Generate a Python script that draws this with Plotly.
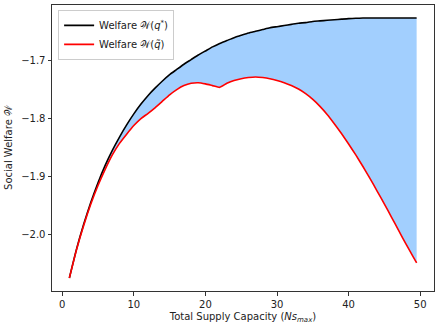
import plotly.graph_objects as go

# supply capacity values on the x axis
capacity = [1, 2, 3, 4, 5, 6, 7, 8, 9, 10, 11, 12, 13, 14, 15, 16, 17, 18, 19, 20,
            21, 22, 23, 24, 25, 26, 27, 28, 29, 30, 31, 32, 33, 34, 35, 36, 37, 38,
            39, 40, 41, 42, 43, 44, 45, 46, 47, 48, 49, 49.5]

# optimal welfare W(q*)
welfare_opt = [-2.076, -2.026, -1.983, -1.945, -1.911, -1.881, -1.855, -1.832, -1.811, -1.792,
               -1.775, -1.760, -1.747, -1.735, -1.724, -1.715, -1.706, -1.698, -1.690, -1.683,
               -1.676, -1.670, -1.665, -1.660, -1.656, -1.652, -1.649, -1.646, -1.643, -1.641,
               -1.639, -1.637, -1.635, -1.634, -1.632, -1.631, -1.630, -1.629, -1.628, -1.627,
               -1.6265, -1.626, -1.626, -1.626, -1.626, -1.626, -1.626, -1.626, -1.626, -1.626]

# achieved welfare W(q~)
welfare_act = [-2.076, -2.027, -1.985, -1.948, -1.916, -1.888, -1.863, -1.843, -1.827, -1.812,
               -1.800, -1.791, -1.781, -1.770, -1.759, -1.750, -1.743, -1.739, -1.738, -1.740,
               -1.743, -1.746, -1.739, -1.734, -1.731, -1.729, -1.728, -1.729, -1.731, -1.734,
               -1.738, -1.743, -1.749, -1.757, -1.767, -1.779, -1.793, -1.809, -1.826, -1.844,
               -1.863, -1.883, -1.904, -1.926, -1.948, -1.971, -1.994, -2.017, -2.039, -2.050]

yticks = [-2.0, -1.9, -1.8, -1.7]
xticks = [0, 10, 20, 30, 40, 50]

fnt = "DejaVu Sans, Arial, sans-serif"
smooth = dict(shape="spline", smoothing=0.5)

fig = go.Figure()

# shaded gap between the two curves
fig.add_trace(go.Scatter(x=capacity, y=welfare_act, mode="lines", line=dict(width=0, **smooth),
                         showlegend=False, hoverinfo="skip"))
fig.add_trace(go.Scatter(x=capacity, y=welfare_opt, mode="lines", line=dict(width=0, **smooth),
                         fill="tonexty", fillcolor="#a2cffe", showlegend=False, hoverinfo="skip"))

fig.add_trace(go.Scatter(x=capacity, y=welfare_opt, mode="lines",
                         line=dict(color="black", width=1.6, **smooth),
                         name="Welfare 𝒲(<i>q</i><sup>*</sup>)"))
fig.add_trace(go.Scatter(x=capacity, y=welfare_act, mode="lines",
                         line=dict(color="red", width=1.6, **smooth),
                         name="Welfare 𝒲(<i>q̃</i>)"))

axis_common = dict(showline=True, linecolor="#333", linewidth=1, mirror=True,
                   ticks="outside", ticklen=3.5, tickcolor="#333", showgrid=False,
                   zeroline=False, tickfont=dict(family=fnt, size=10, color="#222"))

fig.update_xaxes(range=[-1.425, 51.925], tickvals=xticks,
                 title=dict(text="Total Supply Capacity (<i>Ns</i><sub><i>max</i></sub>)",
                            font=dict(family=fnt, size=10, color="#222"), standoff=4),
                 **axis_common)
fig.update_yaxes(range=[-2.0985, -1.6035], tickvals=yticks,
                 ticktext=[f"{v:.1f}".replace("-", "\u2212") for v in yticks],
                 title=dict(text="Social Welfare 𝒲",
                            font=dict(family=fnt, size=10, color="#222"), standoff=6),
                 **axis_common)

fig.update_layout(
    width=441, height=327,
    margin=dict(l=52, r=7, t=5, b=36),
    plot_bgcolor="white", paper_bgcolor="white",
    font=dict(family=fnt, size=10, color="#222"),
    legend=dict(x=0.016, y=0.983, xanchor="left", yanchor="top", traceorder="normal",
                bgcolor="rgba(255,255,255,0.85)", bordercolor="#ccc", borderwidth=1,
                font=dict(family=fnt, size=10, color="#222"), itemwidth=30,
                tracegroupgap=2),
)

# drop the default page margin so the figure sits at the window's corner
fig.write_html("out.html", config={"displayModeBar": False},
               post_script="document.body.style.margin='0';")
